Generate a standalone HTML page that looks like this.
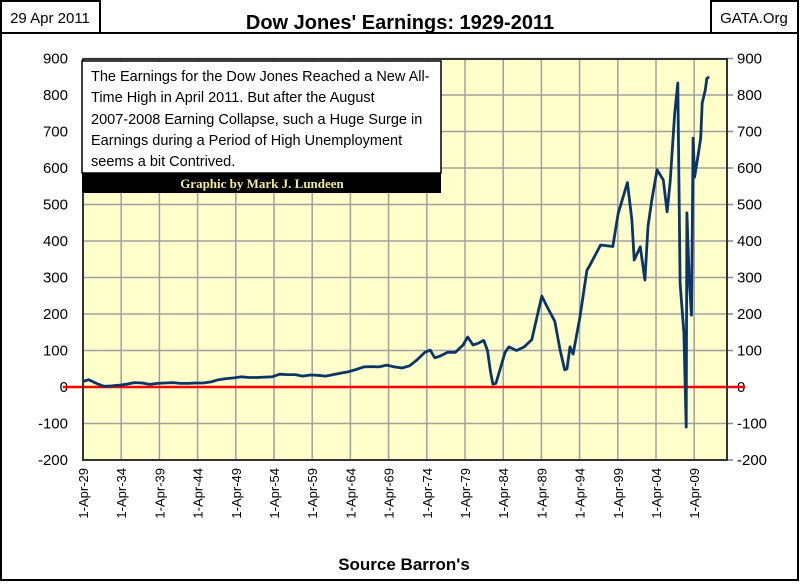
<!DOCTYPE html>
<html><head><meta charset="utf-8"><style>
body{margin:0;background:#fff;width:800px;height:581px;overflow:hidden;font-family:"Liberation Sans Narrow","Liberation Sans",sans-serif}
</style></head><body>
<svg id="chart" width="800" height="581" viewBox="0 0 800 581" xmlns="http://www.w3.org/2000/svg">
<rect x="1" y="33" width="797" height="547" fill="#fff" stroke="#000" stroke-width="2"/>
<rect x="1" y="1" width="99" height="32" fill="#fff" stroke="#000" stroke-width="2"/>
<text x="50" y="23" font-size="15" text-anchor="middle">29 Apr 2011</text>
<rect x="711" y="1" width="87" height="32" fill="#fff" stroke="#000" stroke-width="2"/>
<text x="754" y="23" font-size="15" text-anchor="middle">GATA.Org</text>
<text x="400" y="29" font-size="20" font-weight="bold" text-anchor="middle">Dow Jones' Earnings: 1929-2011</text>
<rect x="83" y="59" width="644" height="401" fill="#ffffcc"/>
<g id="grid"></g>
<g id="axes"></g>
<line id="zero" x1="63" x2="745" stroke="#ff0000" stroke-width="2.5"/>
<polyline id="series" fill="none" stroke="#0b3566" stroke-width="2.8" stroke-linejoin="round"/>
<rect x="83" y="59" width="644" height="401" fill="none" stroke="#333" stroke-width="2"/>
<g>
<rect x="82" y="61" width="359" height="112" fill="#fff" stroke="#000" stroke-width="1.5"/>
<text font-size="14.5" x="91" y="81">
<tspan x="91" y="81">The Earnings for the Dow Jones Reached a New All-</tspan>
<tspan x="91" y="102">Time High in April 2011.  But after the August</tspan>
<tspan x="91" y="124">2007-2008 Earning Collapse, such a Huge Surge in</tspan>
<tspan x="91" y="145">Earnings during a Period of High Unemployment</tspan>
<tspan x="91" y="166">seems a bit Contrived.</tspan></text>
<rect x="82" y="173" width="359" height="20" fill="#000"/>
<text x="262" y="188" font-size="13" font-weight="bold" fill="#f3e9a0" text-anchor="middle" font-family="Liberation Serif,serif">Graphic by Mark J. Lundeen</text>
</g>
<text x="404" y="570" font-size="17" font-weight="bold" text-anchor="middle">Source Barron's</text>
</svg>
<script>
const years=[1929.25,1930,1931,1932,1933,1934,1935,1936,1937,1938,1939,1940,1941,1942,1943,1944,1945,1946,1947,1948,1949,1950,1951,1952,1953,1954,1955,1956,1957,1958,1959,1960,1961,1962,1963,1964,1965,1966,1967,1968,1969,1970,1971,1972,1973,1974,1974.7,1975.3,1976,1977,1978,1979,1979.6,1980.3,1981,1981.7,1982.2,1982.6,1982.9,1983.3,1984,1984.5,1985,1986,1987,1988,1989.3,1990,1991,1991.7,1992.3,1992.6,1993,1993.4,1994.3,1995.2,1995.4,1997,1998.6,1999.3,2000.5,2001.1,2001.4,2002.2,2002.8,2003.2,2003.7,2004.4,2005.2,2005.7,2006.1,2006.7,2007.1,2007.4,2007.9,2008.2,2008.3,2008.6,2008.9,2009.1,2009.3,2009.8,2010.1,2010.3,2010.7,2010.9,2011.2];
const values=[15,20,10,2,3,5,8,12,11,7,10,11,12,10,10,11,11,14,20,23,25,28,26,26,27,28,35,34,34,30,33,32,30,34,38,42,48,55,56,55,60,55,52,58,75,95,101,80,85,95,95,115,137,115,120,128,100,40,8,10,60,95,110,100,110,130,249,220,180,101,47,50,110,90,192,320,326,389,385,476,560,457,348,384,293,440,512,595,567,480,560,750,833,285,148,-110,477,294,197,682,575,640,682,778,814,845,850];
const yTicks=[900,800,700,600,500,400,300,200,100,0,-100,-200];
const xTickLabels=["1-Apr-29","1-Apr-34","1-Apr-39","1-Apr-44","1-Apr-49","1-Apr-54","1-Apr-59","1-Apr-64","1-Apr-69","1-Apr-74","1-Apr-79","1-Apr-84","1-Apr-89","1-Apr-94","1-Apr-99","1-Apr-04","1-Apr-09"];
const xTickYears=[1929.25,1934.25,1939.25,1944.25,1949.25,1954.25,1959.25,1964.25,1969.25,1974.25,1979.25,1984.25,1989.25,1994.25,1999.25,2004.25,2009.25];
const NS="http://www.w3.org/2000/svg";
function xs(yr){return 83+(yr-1929.25)*7.64;}
function ys(v){return 387-v*0.365;}
const grid=document.getElementById('grid'),axes=document.getElementById('axes');
function mk(tag,attrs,parent){const e=document.createElementNS(NS,tag);for(const k in attrs)e.setAttribute(k,attrs[k]);parent.appendChild(e);return e;}
yTicks.forEach(v=>{
  const y=ys(v);
  const g=mk('line',{x1:83,x2:727,y1:y,y2:y,stroke:'#a0a0a0','stroke-width':1.5},grid);
  
  
  const t=mk('line',{x1:727,x2:733,y1:y,y2:y,stroke:'#888','stroke-width':1.5},axes);
  
  
  const l=mk('text',{x:68,y:y+5,'font-size':15,'text-anchor':'end'},axes);l.textContent=v;
  
  
  const r=mk('text',{x:737,y:y+5,'font-size':15,'text-anchor':'start'},axes);r.textContent=v;
  
  
});
xTickYears.forEach((yr,i)=>{
  const x=xs(yr);
  const g=mk('line',{x1:x,x2:x,y1:59,y2:460,stroke:'#a0a0a0','stroke-width':1.5},grid);
  
  
  const t=mk('text',{x:0,y:0,'font-size':13,'text-anchor':'end','font-family':'Liberation Sans,sans-serif',transform:`translate(${x+5},468) rotate(-90)`},axes);
  t.textContent=xTickLabels[i];
  
  
});
const z=document.getElementById('zero');z.setAttribute('y1',ys(0));z.setAttribute('y2',ys(0));
document.getElementById('series').setAttribute('points',years.map((yr,i)=>xs(yr).toFixed(1)+','+ys(values[i]).toFixed(1)).join(' '));
</script>
</body></html>
